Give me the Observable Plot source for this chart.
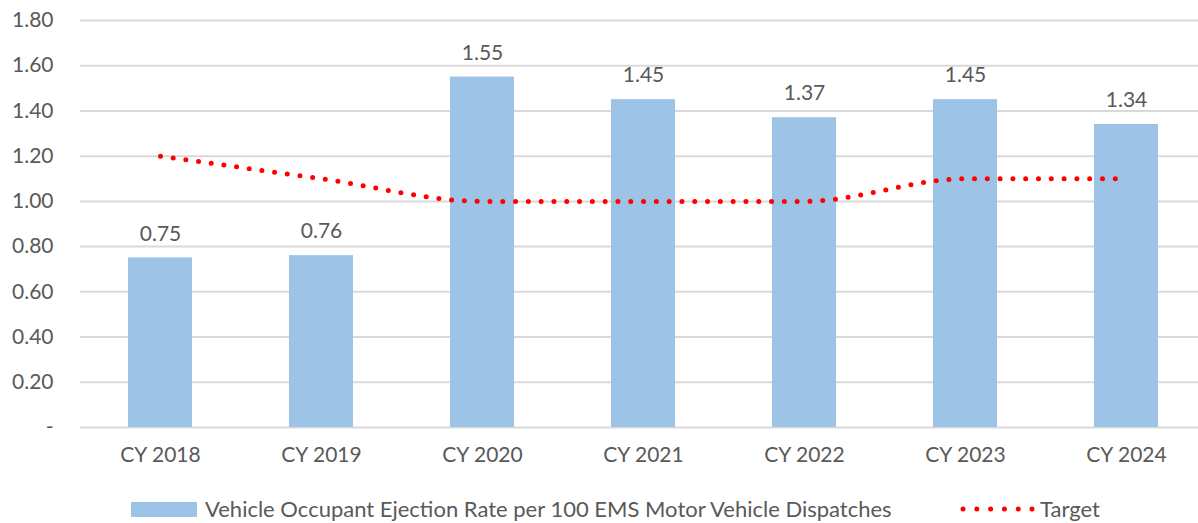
<!DOCTYPE html>
<html>
<head>
<meta charset="utf-8">
<script src="https://cdn.jsdelivr.net/npm/d3@7"></script>
<script src="https://cdn.jsdelivr.net/npm/@observablehq/plot@0.6"></script>
<style>
  body { margin: 0; background: #fff; font-family: Lato, "Open Sans", sans-serif; }
  #chart svg { display: block; }
  .legend { position: relative; height: 43px; font-size: 22px; color: #595959; }
  .legend .sw { position: absolute; left: 131px; top: 22px; width: 66px; height: 15px; background: #9DC3E6; }
  .legend .t1 { position: absolute; left: 205px; top: 15px; white-space: nowrap; }
  .legend .dots { position: absolute; left: 960px; top: 19px; }
  .legend .t2 { position: absolute; left: 1040px; top: 15px; }
</style>
</head>
<body>
<div id="chart"></div>
<div class="legend">
  <div class="sw"></div>
  <div class="t1">Vehicle Occupant Ejection Rate per 100 EMS Motor Vehicle Dispatches</div>
  <svg class="dots" width="76" height="20"><line x1="3" y1="10" x2="74" y2="10" stroke="#FF0000" stroke-width="5" stroke-linecap="round" stroke-dasharray="0 13.8"/></svg>
  <div class="t2">Target</div>
</div>
<script>
const categories = ["CY 2018", "CY 2019", "CY 2020", "CY 2021", "CY 2022", "CY 2023", "CY 2024"];
const rates = [0.75, 0.76, 1.55, 1.45, 1.37, 1.45, 1.34];
const targets = [1.20, 1.10, 1.00, 1.00, 1.00, 1.10, 1.10];
const yTicks = [0, 0.2, 0.4, 0.6, 0.8, 1.0, 1.2, 1.4, 1.6, 1.8];

const data = categories.map((c, i) => ({cat: c, rate: rates[i], target: targets[i]}));
const grey = "#595959";

const chart = Plot.plot({
  width: 1198,
  height: 480,
  marginLeft: 80,
  marginRight: 0,
  marginTop: 20,
  marginBottom: 53,
  style: {fontFamily: "Lato, 'Open Sans', sans-serif", fontSize: "21px", color: grey, background: "#fff"},
  x: {domain: categories, range: [80, 1207], paddingInner: 0.6, paddingOuter: 0.3, label: null},
  y: {domain: [0, 1.8], label: null},
  marks: [
    Plot.ruleY(yTicks, {stroke: "#d9d9d9", strokeWidth: 2}),
    Plot.barY(data, {x: "cat", y: "rate", fill: "#9DC3E6"}),
    Plot.line(data, {x: "cat", y: "target", stroke: "#FF0000", strokeWidth: 5, strokeLinecap: "round", strokeDasharray: "0 12.8", curve: "monotone-x"}),
    Plot.text(data, {x: "cat", y: "rate", text: d => d.rate.toFixed(2), dy: -24, fill: grey, fontSize: 21}),
    Plot.axisY(yTicks, {tickSize: 0, tickPadding: 27, tickFormat: d => d === 0 ? "-" : d.toFixed(2), fill: grey, fontSize: 21, label: null}),
    Plot.axisX({tickSize: 0, tickPadding: 20, fill: grey, fontSize: 21, label: null})
  ]
});
document.getElementById("chart").appendChild(chart);
</script>
</body>
</html>
